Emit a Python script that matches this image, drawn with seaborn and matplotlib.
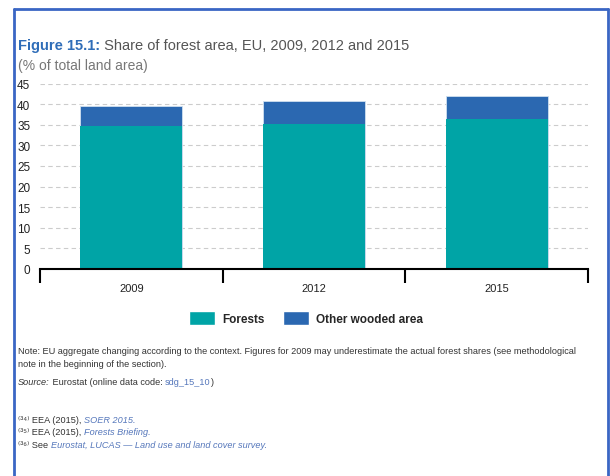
import pandas as pd
import matplotlib.pyplot as plt
import seaborn as sns
from matplotlib.patches import Patch
from matplotlib.lines import Line2D

# data
years = ['2009', '2012', '2015']
forests = [34.7, 35.2, 36.4]
other_wooded = [4.8, 5.6, 5.6]
y_ticks = [0, 5, 10, 15, 20, 25, 30, 35, 40, 45]

teal = '#00A4A6'
blue = '#2B68B1'
title_blue = '#2F6DB8'
grey = '#555555'
link_blue = '#5577BB'
W, H = 610, 477


def fx(px):
    return px / W


def fy(py):
    return 1 - py / H


def build_frame():
    df = pd.DataFrame({'Year': years, 'Forests': forests, 'Other': other_wooded})
    df['Total'] = df['Forests'] + df['Other']
    return df


def put_after(fig, prev, text, y, **kw):
    # place a text right after the previous one on the same line
    fig.canvas.draw()
    x = prev.get_window_extent().x1 / fig.bbox.width
    return fig.text(x, y, text, va='center', **kw)


def plot_forest_share(df):
    sns.set_theme(style='white')
    plt.rcParams['font.family'] = ['Liberation Sans', 'DejaVu Sans']

    fig = plt.figure(figsize=(6.1, 4.77), dpi=100)
    ax = fig.add_axes([fx(40), fy(270), fx(588) - fx(40), fy(84.5) - fy(270)])

    # total bar behind, forests on top -> stacked look
    sns.barplot(data=df, x='Year', y='Total', color=blue, width=0.56,
                saturation=1, edgecolor='#cfe0f0', linewidth=0.6, ax=ax)
    sns.barplot(data=df, x='Year', y='Forests', color=teal, width=0.56,
                saturation=1, linewidth=0, ax=ax)

    ax.set_ylim(0, 45)
    ax.set_xlim(-0.5, 2.5)
    ax.set_yticks(y_ticks)
    ax.set_yticklabels([str(t) for t in y_ticks], fontsize=8.5, color='#222222')
    ax.set_xlabel('')
    ax.set_ylabel('')
    ax.tick_params(axis='y', length=0, pad=7)
    ax.tick_params(axis='x', which='major', length=0, pad=10, labelsize=8,
                   labelcolor='#222222')
    ax.set_xticks([-0.5, 0.5, 1.5, 2.5], minor=True)
    ax.tick_params(axis='x', which='minor', bottom=True, length=10, width=1.5,
                   direction='out', color='black')

    for t in y_ticks[1:]:
        ax.axhline(t, color='#cccccc', linestyle=(0, (4, 3)), linewidth=0.8,
                   zorder=0)
    for s in ['top', 'right', 'left']:
        ax.spines[s].set_visible(False)
    ax.spines['bottom'].set_color('black')
    ax.spines['bottom'].set_linewidth(1.5)
    ax.set_axisbelow(True)

    # blue frame (no bottom edge)
    frame = dict(transform=fig.transFigure, color='#3A66C4', lw=2)
    fig.add_artist(Line2D([fx(14), fx(14)], [0, fy(10)], **frame))
    fig.add_artist(Line2D([fx(14), fx(608)], [fy(10), fy(10)], **frame))
    fig.add_artist(Line2D([fx(608), fx(608)], [0, fy(10)], **frame))

    # title
    t1 = fig.text(fx(18), fy(46), 'Figure 15.1:', fontsize=10.5,
                  fontweight='bold', color=title_blue, va='center')
    put_after(fig, t1, ' Share of forest area, EU, 2009, 2012 and 2015', fy(46),
              fontsize=10.5, color=grey)
    fig.text(fx(18), fy(66), '(% of total land area)', fontsize=10,
             color='#777777', va='center')

    # legend
    handles = [Patch(facecolor=teal, label='Forests'),
               Patch(facecolor=blue, label='Other wooded area')]
    fig.legend(handles=handles, loc='center', ncol=2, frameon=False,
               bbox_to_anchor=(fx(306), fy(319)),
               prop={'weight': 'bold', 'size': 8.5},
               handlelength=2.2, handleheight=1.5, columnspacing=1.5,
               handletextpad=0.6)

    # notes
    fs = 6.6
    dark = '#333333'
    fig.text(fx(18), fy(352),
             'Note: EU aggregate changing according to the context. Figures for 2009 may '
             'underestimate the actual forest shares (see methodological',
             fontsize=fs, color=dark, va='center')
    fig.text(fx(18), fy(365), 'note in the beginning of the section).',
             fontsize=fs, color=dark, va='center')
    s1 = fig.text(fx(18), fy(383), 'Source:', fontsize=fs, style='italic',
                  color=dark, va='center')
    s2 = put_after(fig, s1, ' Eurostat (online data code: ', fy(383),
                   fontsize=fs, color=dark)
    s3 = put_after(fig, s2, 'sdg_15_10', fy(383), fontsize=fs, color=link_blue)
    put_after(fig, s3, ')', fy(383), fontsize=fs, color=dark)

    # footnotes
    foot = [('\u207d\u00b3\u2074\u207e EEA (2015), ', 'SOER 2015.'),
            ('\u207d\u00b3\u2075\u207e EEA (2015), ', 'Forests Briefing.'),
            ('\u207d\u00b3\u2076\u207e See ',
             'Eurostat, LUCAS \u2014 Land use and land cover survey.')]
    for (plain, link), yy in zip(foot, [421, 433, 446]):
        a = fig.text(fx(18), fy(yy), plain, fontsize=fs, color=dark, va='center')
        put_after(fig, a, link, fy(yy), fontsize=fs, color=link_blue,
                  style='italic')

    fig.savefig('out.png', dpi=100)


if __name__ == "__main__":
    data = build_frame()
    plot_forest_share(data)
